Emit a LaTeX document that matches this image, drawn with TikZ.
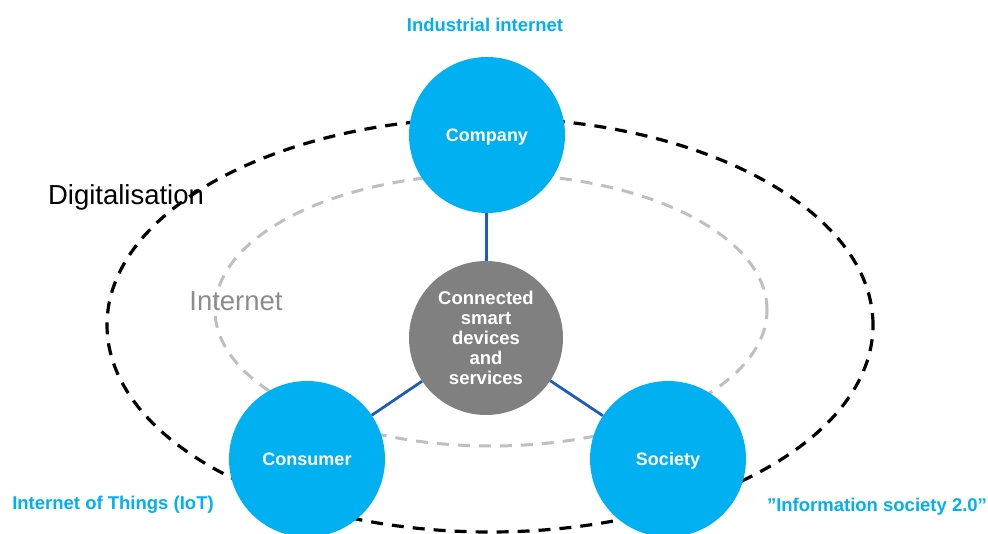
\documentclass[tikz,border=0pt]{standalone}
\usepackage{fontspec}
\setmainfont{Liberation Sans}
\definecolor{cyanfill}{HTML}{00B0F0}
\definecolor{hubgray}{HTML}{808080}
\definecolor{linkblue}{HTML}{1F5CB8}
\definecolor{dashgray}{HTML}{BFBFBF}
\definecolor{labgray}{HTML}{8C8C8C}
\begin{document}
\begin{tikzpicture}[x=1pt,y=-1pt,
  actor/.style={circle,fill=cyanfill,minimum size=156pt,inner sep=0pt,text=white,text height=17pt,text depth=4pt,font=\fontsize{18}{20}\selectfont\bfseries},
  hub/.style={circle,fill=hubgray,minimum size=154pt,inner sep=0pt,text=white,align=center,font=\fontsize{18.5}{20}\selectfont\bfseries},
  link/.style={draw=linkblue,line width=2.8pt},
  outerring/.style={draw=black,line width=3.2pt,dash pattern=on 12pt off 9pt},
  innerring/.style={draw=dashgray,line width=3pt,dash pattern=on 12pt off 9pt},
  cyanlab/.style={text=cyanfill,font=\fontsize{18.5}{20}\selectfont\bfseries,inner sep=0pt},
  biglab/.style={font=\fontsize{27.5}{30}\selectfont,inner sep=0pt}]
\useasboundingbox (0,0) rectangle (988,534);
\draw[outerring] (490,325) ellipse [x radius=383pt, y radius=207pt];
\draw[innerring] (491,310) ellipse [x radius=276pt, y radius=136pt];
\node[biglab,text=black] (dig) at (126,197) {Digitalisation};
\node[biglab,text=labgray] (inet) at (236,301) {Internet};
\node[hub] (hubn) at (486,338) {Connected\\smart\\devices\\and\\services};
\node[actor] (comp) at (487,135) {Company};
\node[actor] (cons) at (307,459) {Consumer};
\node[actor] (soc) at (668,459) {Society};
\path[link] (comp) -- (hubn);
\path[link] (cons) -- (hubn);
\path[link] (soc) -- (hubn);
\node[cyanlab] (indl) at (485,25) {Industrial internet};
\node[cyanlab] (iotl) at (113,505) {Internet of Things (IoT)};
\node[cyanlab] (infl) at (877,507) {”Information society 2.0”};
\end{tikzpicture}
\end{document}
